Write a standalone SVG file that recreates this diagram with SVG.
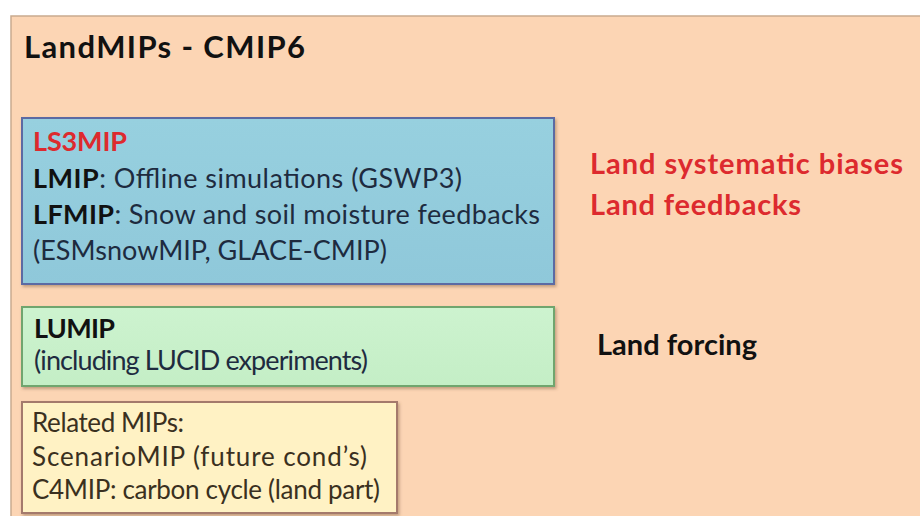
<svg xmlns="http://www.w3.org/2000/svg" width="920" height="516" viewBox="0 0 920 516">
  <defs>
    <linearGradient id="gBlue" x1="0" y1="0" x2="0" y2="1">
      <stop offset="0" stop-color="#97D0DF"/>
      <stop offset="1" stop-color="#8FC8DA"/>
    </linearGradient>
    <linearGradient id="gGreen" x1="0" y1="0" x2="0" y2="1">
      <stop offset="0" stop-color="#CDF3CF"/>
      <stop offset="1" stop-color="#C4EEC6"/>
    </linearGradient>
    <filter id="shadow" x="-5%" y="-5%" width="110%" height="115%">
      <feDropShadow dx="1.5" dy="2" stdDeviation="1.5" flood-color="#7a5a40" flood-opacity="0.45"/>
    </filter>
  </defs>
  <style>
    text { font-family: Lato, "Open Sans", "Liberation Sans", sans-serif; }
    .b { font-weight: bold; }
    .t { font-size: 27px; fill: #1E2B3F; }
    .k { fill: #111111; }
    .red { fill: #DD2A2E; }
    .side { font-size: 29px; font-weight: bold; }
    .y { font-size: 26px; fill: #3A3020; }
  </style>
  <rect width="920" height="516" fill="#FFFFFF"/>
  <g id="frame">
    <rect x="11" y="16" width="920" height="520" fill="#FCD5B4" stroke="#C9AA8E" stroke-width="1.5"/>
    <text x="24" y="58" class="b k" font-size="31" textLength="281">LandMIPs  - CMIP6</text>
  </g>
  <g id="ls3mip">
    <rect x="22" y="118" width="532" height="166" fill="url(#gBlue)" stroke="#5C6BA3" stroke-width="2" filter="url(#shadow)"/>
    <text x="33" y="151" class="t b red" font-size="26" textLength="94">LS3MIP</text>
    <text x="33" y="188" class="t" textLength="429"><tspan class="b k">LMIP</tspan>: Offline simulations (GSWP3)</text>
    <text x="33" y="224" class="t" textLength="507"><tspan class="b k">LFMIP</tspan>: Snow and soil moisture feedbacks</text>
    <text x="33" y="260" class="t" textLength="354">(ESMsnowMIP, GLACE-CMIP)</text>
  </g>
  <g id="lumip">
    <rect x="22" y="307" width="532" height="79" fill="url(#gGreen)" stroke="#6FA56E" stroke-width="2" filter="url(#shadow)"/>
    <text x="34" y="338" class="t b k" textLength="81">LUMIP</text>
    <text x="34" y="370" class="t" font-size="25.5" fill="#2A3A2A" textLength="334">(including LUCID experiments)</text>
  </g>
  <g id="related">
    <rect x="22" y="402" width="375" height="111" fill="#FFF2C4" stroke="#A47A6C" stroke-width="2" filter="url(#shadow)"/>
    <text x="32" y="432" class="y" textLength="152">Related MIPs:</text>
    <text x="32" y="466" class="y" textLength="335">ScenarioMIP (future cond’s)</text>
    <text x="32" y="499" class="y" textLength="348">C4MIP: carbon cycle (land part)</text>
  </g>
  <g id="labels">
    <text x="590" y="174" class="side red" textLength="313">Land systematic biases</text>
    <text x="590" y="215" class="side red" textLength="211">Land feedbacks</text>
    <text x="597" y="355" class="side k" textLength="160">Land forcing</text>
  </g>
  <g id="connectors"></g>
</svg>
